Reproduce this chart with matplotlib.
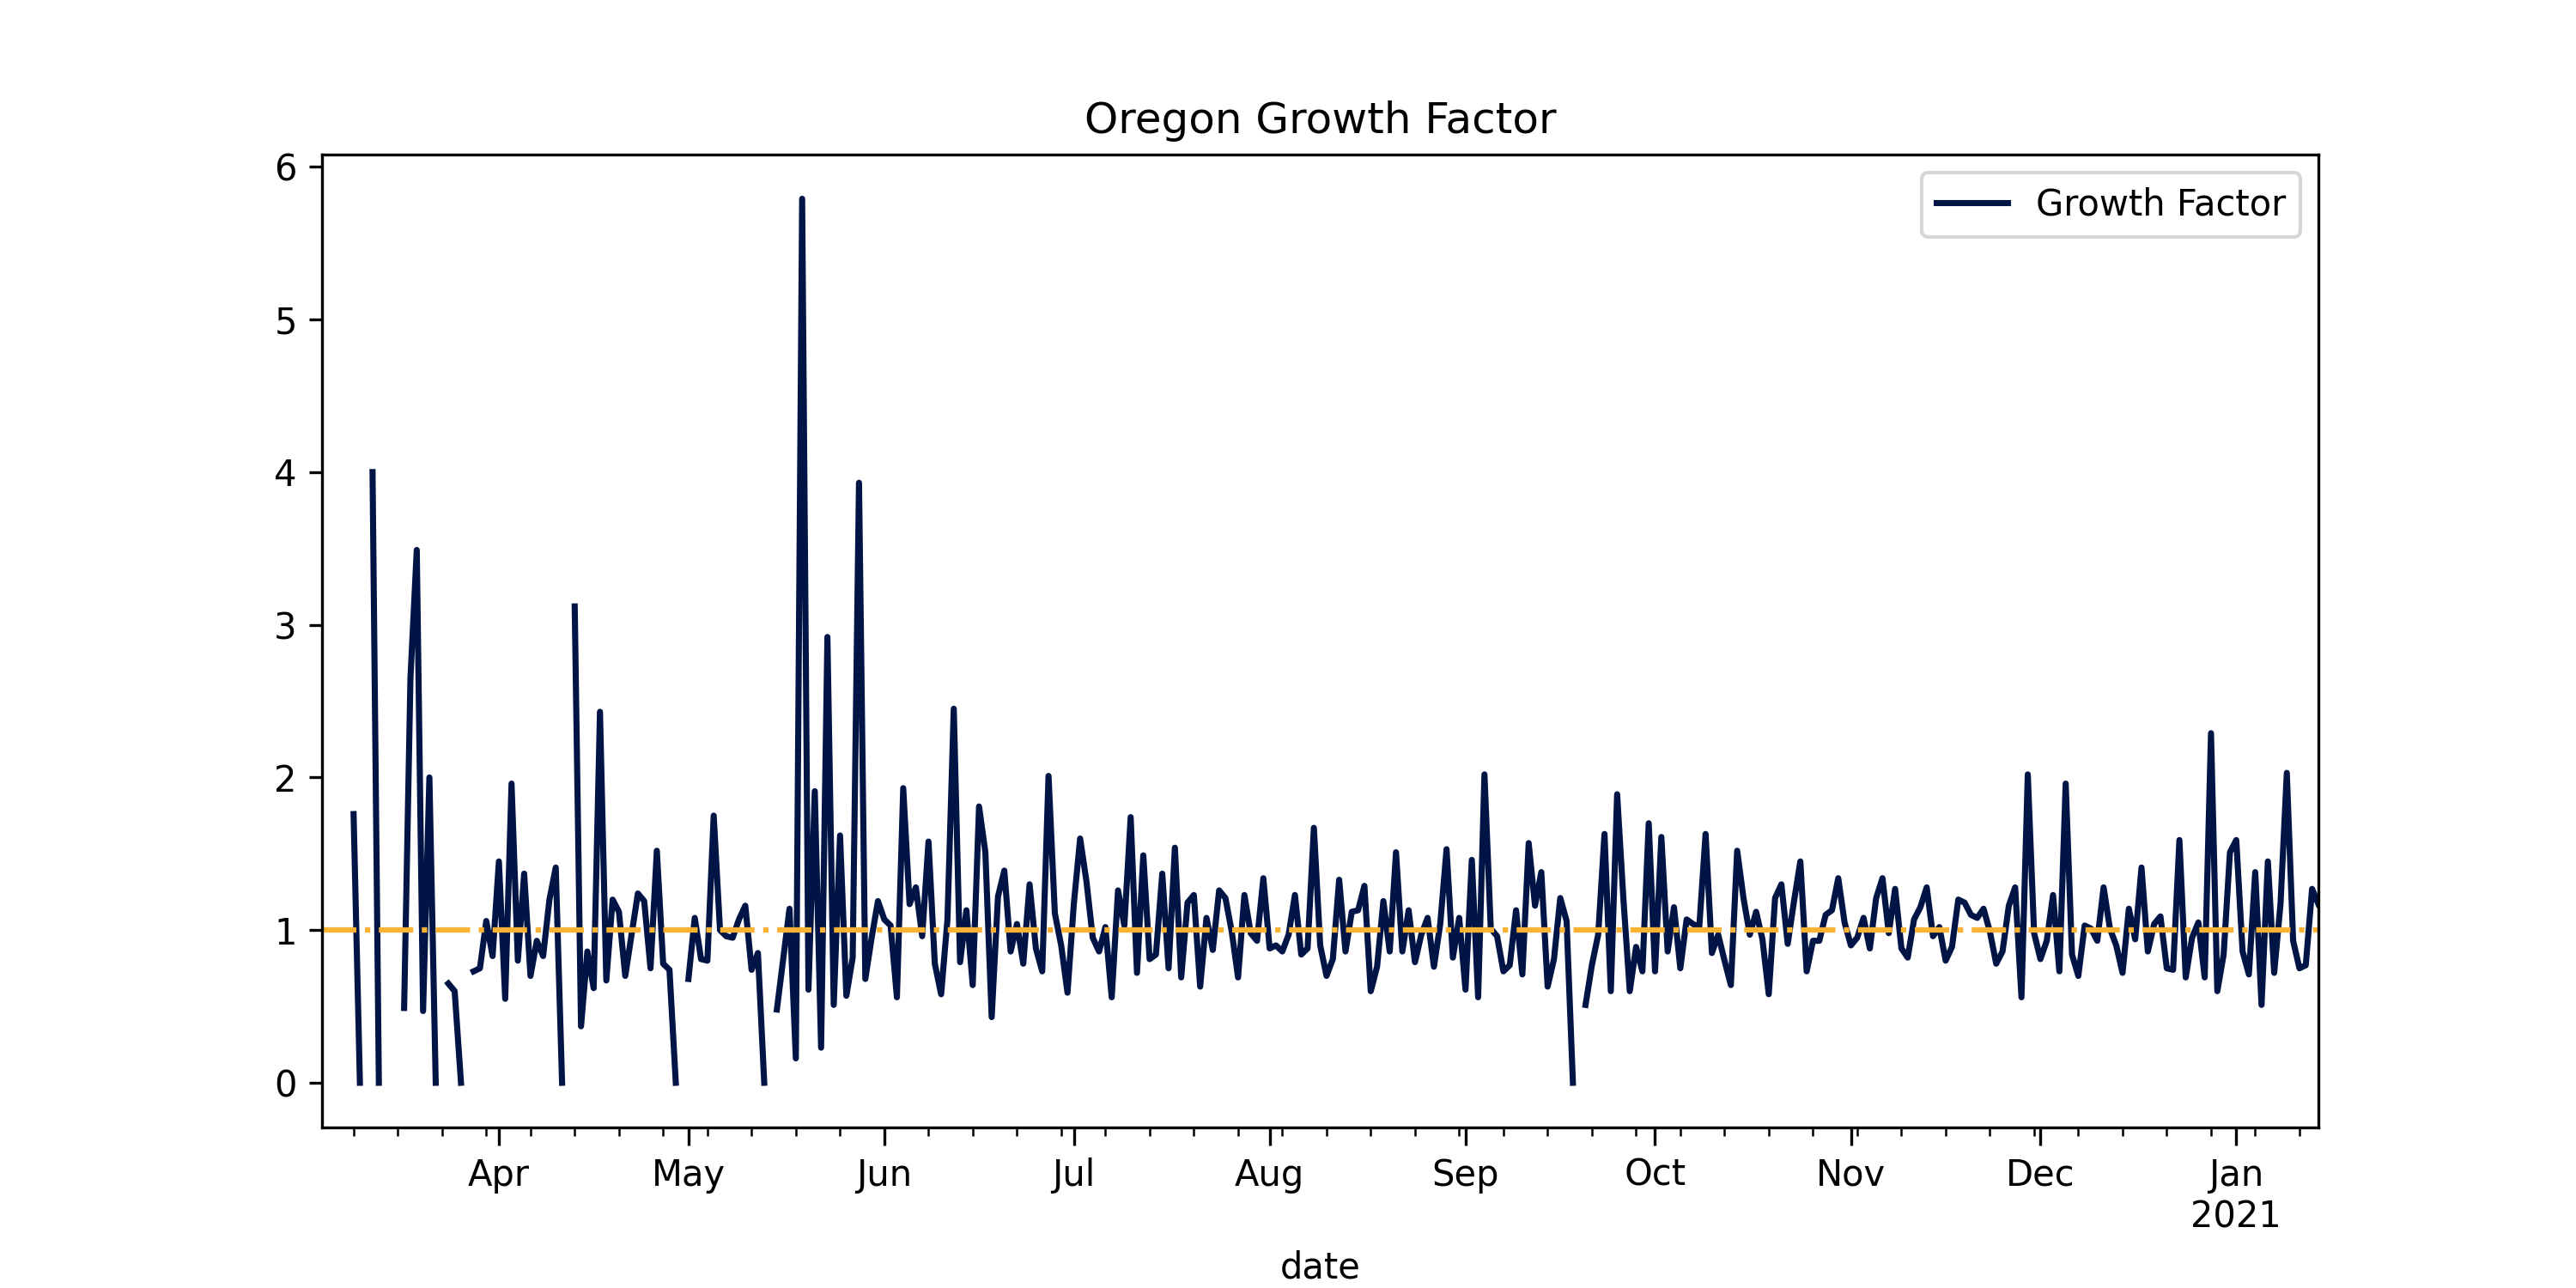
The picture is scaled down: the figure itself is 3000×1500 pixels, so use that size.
import numpy as np
import pandas as pd
import matplotlib
matplotlib.use("Agg")
import matplotlib.pyplot as plt
import matplotlib.dates as mdates
from matplotlib.ticker import FuncFormatter

nan = np.nan
start_date = "2020-03-04"

# daily growth factor, Mar 4 2020 .. Jan 14 2021 (nan = missing)
mar = [nan, nan, nan, nan, nan,
       1.76, 0, nan, 4.0, 0, nan, nan, nan, 0.49, 2.65, 3.49, 0.47, 2.0, 0, nan,
       0.65, 0.6, 0, nan, 0.73, 0.75, 1.06, 0.83]
apr = [1.45, 0.55, 1.96, 0.8, 1.37, 0.7, 0.93, 0.83, 1.2, 1.41, 0, nan, 3.12, 0.37,
       0.86, 0.62, 2.43, 0.67, 1.2, 1.12, 0.7, 0.97, 1.24, 1.19, 0.75, 1.52, 0.78,
       0.74, 0, nan]
may = [0.68, 1.08, 0.81, 0.8, 1.75, 1.0, 0.96, 0.95, 1.07, 1.16, 0.74, 0.85, 0, nan,
       0.48, 0.81, 1.14, 0.16, 5.79, 0.61, 1.91, 0.23, 2.92, 0.51, 1.62, 0.57, 0.82,
       3.93, 0.68, 0.95, 1.19]
jun = [1.07, 1.03, 0.56, 1.93, 1.17, 1.28, 0.96, 1.58, 0.78, 0.58, 1.07, 2.45, 0.79,
       1.13, 0.64, 1.81, 1.51, 0.43, 1.22, 1.39, 0.86, 1.04, 0.78, 1.3, 0.88, 0.73,
       2.01, 1.11, 0.9, 0.59]
jul = [1.17, 1.6, 1.32, 0.95, 0.86, 1.02, 0.56, 1.26, 1.03, 1.74, 0.72, 1.49, 0.81,
       0.84, 1.37, 0.75, 1.54, 0.69, 1.18, 1.23, 0.63, 1.08, 0.87, 1.26, 1.21, 0.99,
       0.69, 1.23, 0.98, 0.93, 1.34]
aug = [0.88, 0.9, 0.86, 0.97, 1.23, 0.84, 0.88, 1.67, 0.9, 0.7, 0.81, 1.33, 0.86,
       1.12, 1.13, 1.29, 0.6, 0.76, 1.19, 0.86, 1.51, 0.86, 1.13, 0.79, 0.97, 1.08,
       0.76, 1.04, 1.53, 0.82, 1.08]
sep = [0.61, 1.46, 0.56, 2.02, 1.01, 0.96, 0.73, 0.77, 1.13, 0.71, 1.57, 1.16, 1.38,
       0.63, 0.81, 1.21, 1.06, 0, nan, 0.51, 0.77, 0.97, 1.63, 0.6, 1.89, 1.2, 0.6,
       0.89, 0.73, 1.7]
oct_ = [0.73, 1.61, 0.86, 1.15, 0.75, 1.07, 1.04, 1.02, 1.63, 0.85, 0.97, 0.8, 0.64,
        1.52, 1.21, 0.97, 1.12, 0.94, 0.58, 1.21, 1.3, 0.91, 1.19, 1.45, 0.73, 0.93,
        0.93, 1.1, 1.13, 1.34, 1.05]
nov = [0.9, 0.95, 1.08, 0.88, 1.21, 1.34, 0.98, 1.27, 0.88, 0.82, 1.07, 1.15, 1.28,
       0.96, 1.02, 0.8, 0.89, 1.2, 1.18, 1.1, 1.08, 1.14, 0.99, 0.78, 0.86, 1.16,
       1.28, 0.56, 2.02, 0.98]
dec = [0.81, 0.93, 1.23, 0.73, 1.96, 0.84, 0.7, 1.03, 1.01, 0.93, 1.28, 1.01, 0.9,
       0.72, 1.14, 0.94, 1.41, 0.86, 1.04, 1.09, 0.75, 0.74, 1.59, 0.69, 0.95, 1.05,
       0.69, 2.29, 0.6, 0.84, 1.51]
jan = [1.59, 0.86, 0.71, 1.38, 0.51, 1.45, 0.72, 1.17, 2.03, 0.93, 0.75, 0.77, 1.27,
       1.17]

values = mar + apr + may + jun + jul + aug + sep + oct_ + nov + dec + jan
dates = pd.date_range(start_date, periods=len(values), freq="D")
df = pd.DataFrame({"Growth Factor": values}, index=dates)

fig, ax = plt.subplots(figsize=(10, 5), dpi=300)
fig.subplots_adjust(left=0.125, right=0.9, top=0.88, bottom=0.125)
ax.plot(df.index, df["Growth Factor"], color="#001446", linewidth=1.7, label="Growth Factor")
ax.axhline(1, color="#f9b233", linestyle="-.", linewidth=1.5)
ax.set_xlim(df.index[0], df.index[-1])

ax.xaxis.set_major_locator(mdates.MonthLocator())
ax.xaxis.set_minor_locator(mdates.WeekdayLocator(byweekday=mdates.MO))
ax.xaxis.set_major_formatter(FuncFormatter(
    lambda v, p: mdates.num2date(v).strftime("%b\n%Y") if mdates.num2date(v).month == 1
    else mdates.num2date(v).strftime("%b")))
ax.tick_params(axis="x", which="major", length=5)
ax.tick_params(axis="x", which="minor", length=2.5)

ax.set_title("Oregon Growth Factor")
ax.set_xlabel("date")
ax.legend(loc="upper right")
fig.savefig("out.png", dpi=300)
